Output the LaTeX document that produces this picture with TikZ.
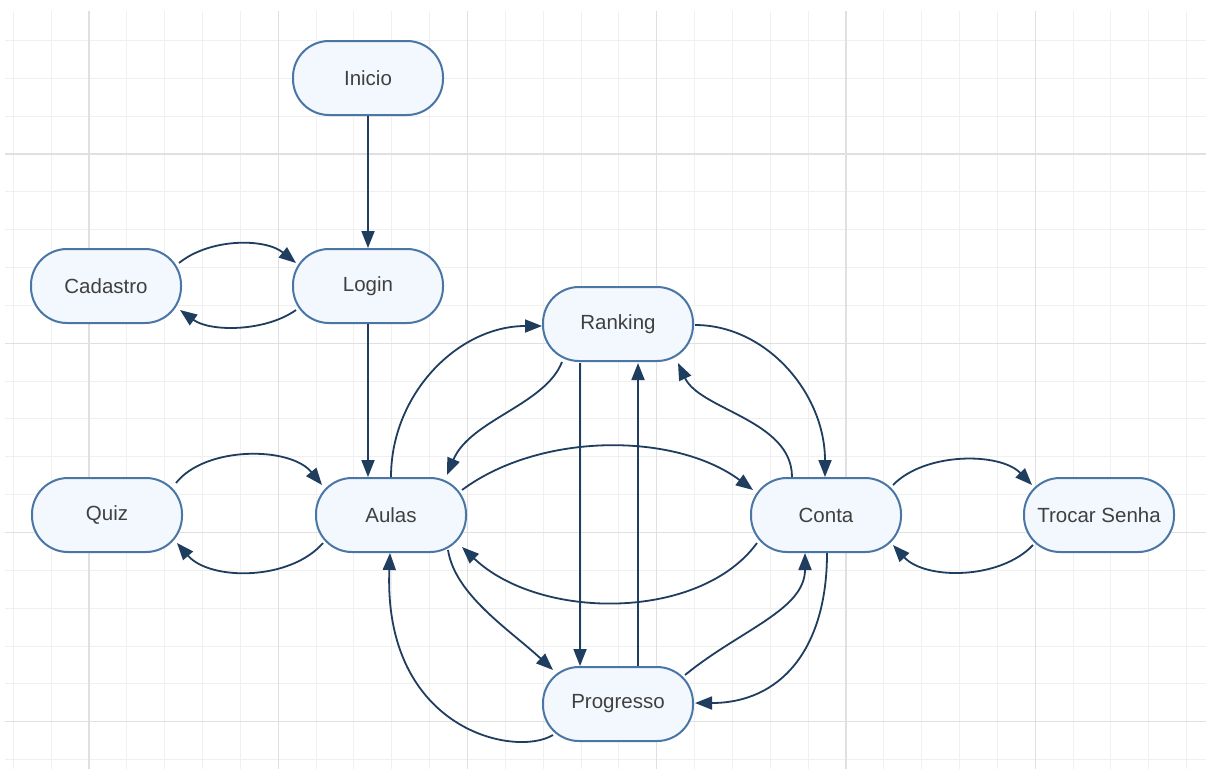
\documentclass[tikz,border=0pt]{standalone}
\usepackage{fontspec}
\setmainfont{Liberation Sans}
\usetikzlibrary{arrows.meta}
\definecolor{nodeborder}{HTML}{4A76A5}
\definecolor{nodefill}{HTML}{F3F8FE}
\definecolor{edgecol}{HTML}{1E3D5F}
\definecolor{txtcol}{HTML}{404040}
\definecolor{minorgrid}{HTML}{F0F0F0}
\definecolor{majorgrid}{HTML}{E0E0E0}
\tikzset{
  state/.style={rectangle, rounded corners=36pt, minimum width=150pt, minimum height=74pt,
    draw=nodeborder, fill=nodefill, line width=2pt, text=txtcol,
    font=\fontsize{20.5}{24}\selectfont, inner sep=0pt},
  conn/.style={draw=edgecol, line width=1.8pt, -{Triangle[length=17pt,width=13pt]}},
  mingrid/.style={draw=minorgrid, line width=1pt},
  majgrid/.style={draw=majorgrid, line width=1.1pt}
}
\begin{document}
\begin{tikzpicture}[x=1pt,y=-1pt]
\useasboundingbox (0,0) rectangle (1206,769);
\fill[white] (0,0) rectangle (1206,769);
% grid
\foreach \k in {-2,...,29} {
  \pgfmathsetmacro\xx{89+\k*37.85}
  \draw[mingrid] (\xx,11) -- (\xx,769);
}
\foreach \k in {-3,...,16} {
  \pgfmathsetmacro\yy{154+\k*37.85}
  \draw[mingrid] (5,\yy) -- (1206,\yy);
}
\foreach \k in {0,5,...,25} {
  \pgfmathsetmacro\xx{89+\k*37.85}
  \draw[majgrid] (\xx,11) -- (\xx,769);
}
\foreach \k in {0,5,10,15} {
  \pgfmathsetmacro\yy{154+\k*37.85}
  \draw[majgrid] (5,\yy) -- (1206,\yy);
}
% nodes
\node[state] (inicio) at (368,78) {Inicio};
\node[state] (login) at (368,286) {Login};
\node[state] (cadastro) at (106,286) {Cadastro};
\node[state] (quiz) at (107,515) {Quiz};
\node[state] (aulas) at (391,515) {Aulas};
\node[state] (ranking) at (618,324) {Ranking};
\node[state] (conta) at (826,515) {Conta};
\node[state] (trocar) at (1099,515) {Trocar Senha};
\node[state] (progresso) at (618,704) {Progresso};
% connectors
\draw[conn] (inicio.south) -- (login.north);
\draw[conn] (login.south) -- ([xshift=-23pt]aulas.north);
\draw[conn] ([shift={(73,-23)}]cadastro.center) .. controls (210,238) and (265,238) .. ([shift={(-72,-23)}]login.center);
\draw[conn] ([shift={(-72,24)}]login.center) .. controls (265,332) and (210,332) .. ([shift={(74,24)}]cadastro.center);
\draw[conn] ([shift={(69,-32)}]quiz.center) .. controls (205,446) and (290,446) .. ([shift={(-69,-30)}]aulas.center);
\draw[conn] ([shift={(-68,28)}]aulas.center) .. controls (290,581) and (210,581) .. ([shift={(70,28)}]quiz.center);
\draw[conn] ([shift={(67,-30)}]conta.center) .. controls (925,452) and (1000,452) .. ([shift={(-67,-30)}]trocar.center);
\draw[conn] ([shift={(-66,30)}]trocar.center) .. controls (1000,580) and (925,580) .. ([shift={(67,30)}]conta.center);
\draw[conn] ([shift={(0,-38)}]aulas.center) .. controls (391,394) and (458,326) .. ([shift={(-76,2)}]ranking.center);
\draw[conn] ([shift={(-56,38)}]ranking.center) .. controls (545,405) and (470,420) .. ([shift={(56,-40)}]aulas.center);
\draw[conn] ([shift={(71,-25)}]aulas.center) .. controls (540,432) and (675,432) .. ([shift={(-73,-25)}]conta.center);
\draw[conn] ([shift={(77,1)}]ranking.center) .. controls (766,325) and (825,393) .. ([shift={(-1,-38)}]conta.center);
\draw[conn] ([shift={(-34,-38)}]conta.center) .. controls (792,420) and (700,410) .. ([shift={(60,39)}]ranking.center);
\draw[conn] ([shift={(-38,39)}]ranking.center) -- ([shift={(-38,-38)}]progresso.center);
\draw[conn] ([shift={(20,-38)}]progresso.center) -- ([shift={(20,39)}]ranking.center);
\draw[conn] ([shift={(-69,28)}]conta.center) .. controls (700,621) and (540,621) .. ([shift={(71,32)}]aulas.center);
\draw[conn] ([shift={(57,35)}]aulas.center) .. controls (455,595) and (510,630) .. ([shift={(-65,-34)}]progresso.center);
\draw[conn] ([shift={(67,-29)}]progresso.center) .. controls (740,630) and (805,610) .. ([shift={(-21,38)}]conta.center);
\draw[conn] ([shift={(1,38)}]conta.center) .. controls (827,650) and (780,703) .. ([shift={(77,-1)}]progresso.center);
\draw[conn] ([shift={(-65,31)}]progresso.center) .. controls (515,758) and (383,730) .. ([shift={(-1,38)}]aulas.center);
\end{tikzpicture}
\end{document}
